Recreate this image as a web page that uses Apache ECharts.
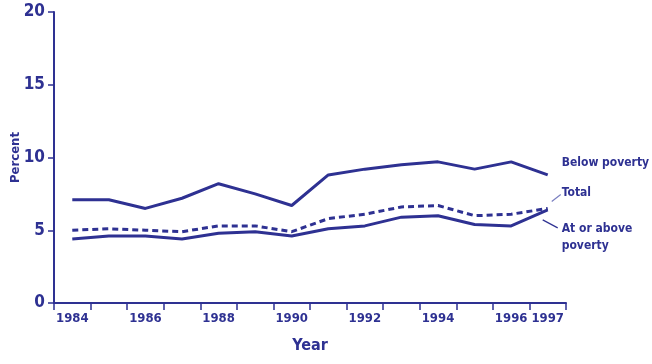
<!DOCTYPE html>
<html><head><meta charset="utf-8">
<script src="https://cdn.jsdelivr.net/npm/echarts@6/dist/echarts.min.js"></script>
<style>html,body{margin:0;padding:0;background:#fff}#c{width:652px;height:364px}</style>
</head><body><div id="c"></div>
<script>
var years = ['1984','1985','1986','1987','1988','1989','1990','1991','1992','1993','1994','1995','1996','1997'];
var shownYears = ['1984','1986','1988','1990','1992','1994','1996','1997'];
var yTicks = [0,5,10,15,20];
var belowPoverty = [7.1,7.1,6.5,7.2,8.2,7.5,6.7,8.8,9.2,9.5,9.7,9.2,9.7,8.8];
var total = [5.0,5.1,5.0,4.9,5.3,5.3,4.9,5.8,6.1,6.6,6.7,6.0,6.1,6.5];
var atOrAbove = [4.4,4.6,4.6,4.4,4.8,4.9,4.6,5.1,5.3,5.9,6.0,5.4,5.3,6.4];
var seriesNames = ['Below poverty','Total','At or above poverty'];

var C = '#2e3192';
var F = '"DejaVu Sans Condensed","Liberation Sans Narrow",sans-serif';
var chart = echarts.init(document.getElementById('c'));
function ser(name, data, dashed){
  return {name:name,type:'line',data:data,symbol:'none',silent:true,
    lineStyle:{color:C,width:3,type:dashed?[6,4]:'solid'}};
}
chart.setOption({
  animation:false,
  grid:{left:54,right:86,top:12,bottom:61,containLabel:false,outerBoundsMode:'none'},
  xAxis:{type:'category',data:years,boundaryGap:true,
    name:'Year',nameLocation:'middle',nameGap:35,nameMoveOverlap:false,
    nameTextStyle:{color:C,fontFamily:F,fontWeight:'bold',fontSize:16},
    axisLine:{lineStyle:{color:C,width:2}},
    axisTick:{show:true,length:7,lineStyle:{color:C,width:1.5},interval:0},
    axisLabel:{color:C,fontFamily:F,fontWeight:'bold',fontSize:13,margin:9,
      interval:0,formatter:function(v){return shownYears.indexOf(v)>=0?v:'';}}
  },
  yAxis:{type:'value',min:yTicks[0],max:yTicks[yTicks.length-1],interval:5,
    name:'Percent',nameLocation:'middle',nameGap:32,nameRotate:90,nameMoveOverlap:false,
    nameTextStyle:{color:C,fontFamily:F,fontWeight:'bold',fontSize:13},
    splitLine:{show:false},
    axisLine:{show:true,lineStyle:{color:C,width:2}},
    axisTick:{show:true,length:6,lineStyle:{color:C,width:1.5}},
    axisLabel:{color:C,fontFamily:F,fontWeight:'bold',fontSize:17,margin:9}
  },
  series:[ser(seriesNames[0],belowPoverty,false),ser(seriesNames[1],total,true),ser(seriesNames[2],atOrAbove,false)]
});
var last = years.length-1;
var pB = chart.convertToPixel({gridIndex:0},[last,belowPoverty[last]]);
var pT = chart.convertToPixel({gridIndex:0},[last,total[last]]);
var pA = chart.convertToPixel({gridIndex:0},[last,atOrAbove[last]]);
var tx = pB[0]+14;
var ts = {fill:C,font:'bold 12px '+F};
chart.setOption({graphic:[
  {type:'text',left:tx,top:pB[1]-18,style:Object.assign({text:seriesNames[0]},ts)},
  {type:'text',left:tx,top:pT[1]-22,style:Object.assign({text:'Total'},ts)},
  {type:'text',left:tx,top:pA[1]+10,style:Object.assign({text:'At or above\npoverty',lineHeight:17},ts)},
  {type:'line',shape:{x1:pT[0]+4,y1:pT[1]-7,x2:pT[0]+13,y2:pT[1]-14},style:{stroke:'#7a7fc0',lineWidth:1.2}},
  {type:'line',shape:{x1:pA[0]-5,y1:pA[1]+10,x2:pA[0]+10,y2:pA[1]+18},style:{stroke:C,lineWidth:1.2}}
]});
</script></body></html>
